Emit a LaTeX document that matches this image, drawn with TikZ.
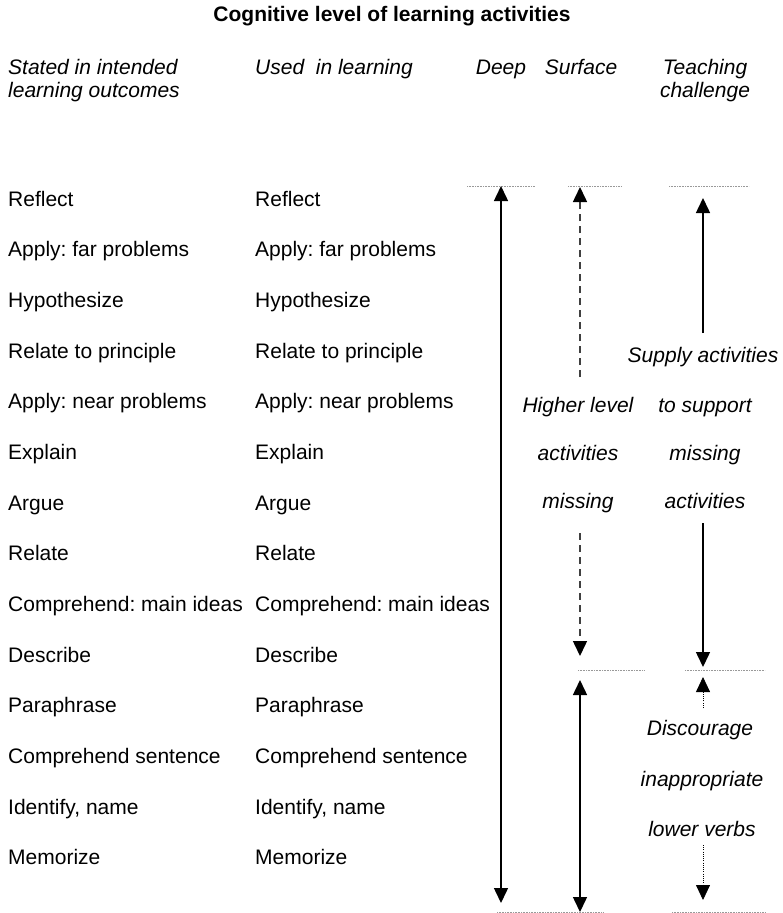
\documentclass[tikz,border=0pt]{standalone}
\usepackage{fontspec}
\setmainfont{Liberation Sans}
\usetikzlibrary{arrows.meta}
\frenchspacing
\begin{document}
\begin{tikzpicture}[x=1pt,y=-1pt,
  every node/.style={inner sep=0pt, font=\fontsize{21}{25}\selectfont},
  lbl/.style={anchor=base west},
  hdr/.style={anchor=base west, font=\fontsize{21}{25}\selectfont\itshape},
  ctr/.style={anchor=base, font=\fontsize{21}{25}\selectfont\itshape},
  guide/.style={draw=gray!80, line width=0.7pt, dash pattern=on 0.8pt off 0.8pt},
  stem/.style={draw=black, line width=1.5pt},
  dashstem/.style={draw=black!75, line width=1.5pt, dash pattern=on 7pt off 5pt},
  dotstem/.style={draw=black, line width=0.8pt, dash pattern=on 1pt off 1.2pt},
  tip/.style={-{Triangle[length=15pt,width=14pt,black]}},
  tips/.style={{Triangle[length=15pt,width=14pt,black]}-{Triangle[length=15pt,width=14pt,black]}}
]
\useasboundingbox (0,0) rectangle (782,913);

% title and headers
\node[anchor=base, font=\fontsize{21}{25}\selectfont\bfseries] (title) at (392,21) {Cognitive level of learning activities};
\node[hdr] (h1a) at (8,74) {Stated in intended};
\node[hdr] (h1b) at (8,97) {learning outcomes};
\node[hdr] (h2) at (255,74) {Used\ \ in learning};
\node[ctr] (h3) at (501,74) {Deep};
\node[ctr] (h4) at (581,74) {Surface};
\node[ctr] (h5a) at (705,74) {Teaching};
\node[ctr] (h5b) at (705,97) {challenge};

% rows
\foreach \t [count=\i from 0] in {Reflect, Apply: far problems, Hypothesize, Relate to principle,
  Apply: near problems, Explain, Argue, Relate, Comprehend: main ideas, Describe, Paraphrase,
  Comprehend sentence, {Identify, name}, Memorize} {
  \node[lbl] (a\i) at (8,{206+50.69*\i}) {\t};
  \node[lbl] (b\i) at (255,{206+50.69*\i}) {\t};
}

% right texts
\node[ctr] (s1) at (578,412) {Higher level};
\node[ctr] (s2) at (578,460) {activities};
\node[ctr] (s3) at (578,508) {missing};
\node[ctr] (t1) at (703,362) {Supply activities};
\node[ctr] (t2) at (705,412) {to support};
\node[ctr] (t3) at (705,460) {missing};
\node[ctr] (t4) at (705,508) {activities};
\node[ctr] (u1) at (700,735) {Discourage};
\node[ctr] (u2) at (702,786) {inappropriate};
\node[ctr] (u3) at (702,836) {lower verbs};

% guide lines
\coordinate (g1a) at (467,186); \coordinate (g1b) at (535,186);
\coordinate (g2a) at (568,186); \coordinate (g2b) at (622,186);
\coordinate (g3a) at (669,186); \coordinate (g3b) at (749,186);
\coordinate (g4a) at (578,670); \coordinate (g4b) at (645,670);
\coordinate (g5a) at (685,670); \coordinate (g5b) at (765,670);
\coordinate (g6a) at (497,912); \coordinate (g6b) at (604,912);
\coordinate (g7a) at (672,912); \coordinate (g7b) at (765,912);
\foreach \g in {1,...,7} \draw[guide] (g\g a) -- (g\g b);

% deep
\coordinate (dtop) at (501,186); \coordinate (dbot) at (501,903);
\draw[stem,tips] (dtop) -- (dbot);

% surface
\coordinate (sa1) at (580,377); \coordinate (sa2) at (580,187);
\draw[dashstem,tip] (sa1) -- (sa2);
\coordinate (sb1) at (580,533); \coordinate (sb2) at (580,656);
\draw[dashstem,tip] (sb1) -- (sb2);
\coordinate (sc1) at (580,680); \coordinate (sc2) at (580,912);
\draw[stem,tips] (sc1) -- (sc2);

% teaching
\coordinate (ta1) at (703,333); \coordinate (ta2) at (703,198);
\draw[stem,tip] (ta1) -- (ta2);
\coordinate (tb1) at (703,523); \coordinate (tb2) at (703,667);
\draw[stem,tip] (tb1) -- (tb2);
\coordinate (tc1) at (703,708); \coordinate (tc2) at (703,677);
\draw[dotstem,tip] (tc1) -- (tc2);
\coordinate (td1) at (703,845); \coordinate (td2) at (703,900);
\draw[dotstem,tip] (td1) -- (td2);
\end{tikzpicture}
\end{document}
